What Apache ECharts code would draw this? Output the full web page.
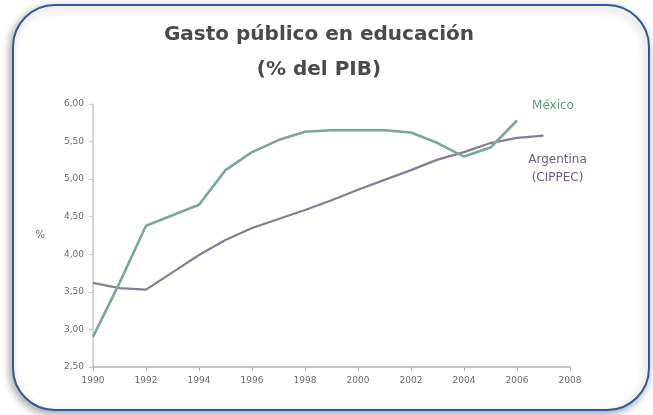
<!DOCTYPE html>
<html>
<head>
<meta charset="utf-8">
<script src="https://cdn.jsdelivr.net/npm/echarts@6/dist/echarts.min.js"></script>
<style>
html,body{margin:0;padding:0;background:#ffffff;}
#c{width:653px;height:415px;}
</style>
</head>
<body>
<div id="c"></div>
<script>
const years = ['1990','1991','1992','1993','1994','1995','1996','1997','1998','1999','2000','2001','2002','2003','2004','2005','2006','2007','2008'];
const mexico = [2.90, 3.62, 4.38, 4.52, 4.66, 5.12, 5.36, 5.52, 5.63, 5.65, 5.65, 5.65, 5.62, 5.48, 5.30, 5.42, 5.78, null, null];
const argentina = [3.62, 3.55, 3.53, 3.76, 3.99, 4.19, 4.35, 4.47, 4.59, 4.72, 4.86, 4.99, 5.12, 5.26, 5.36, 5.48, 5.55, 5.58, null];
const yTicks = {min: 2.5, max: 6.0, step: 0.5};
const titleLines = ['Gasto público en educación', '(% del PIB)'];
const mexicoName = 'México';
const argentinaName = 'Argentina\n(CIPPEC)';

function withEndLabel(arr, text, pos, offset, color) {
  let last = -1;
  arr.forEach((v, i) => { if (v !== null) last = i; });
  return arr.map((v, i) => {
    if (i !== last) return v;
    return {value: v, label: {show: true, formatter: text, position: pos, offset: offset,
      color: color, fontSize: 12, lineHeight: 18, fontFamily: 'DejaVu Sans', align: 'center'}};
  });
}

const chart = echarts.init(document.getElementById('c'), null, {renderer: 'canvas'});
chart.setOption({
  backgroundColor: '#ffffff',
  animation: false,
  graphic: [
    {type: 'rect', z: -10, silent: true,
      shape: {x: 13, y: 5, width: 636, height: 405, r: 42},
      style: {fill: '#ffffff', stroke: '#2f5a9c', lineWidth: 2,
        shadowBlur: 8, shadowColor: 'rgba(0,0,0,0.35)', shadowOffsetX: -2, shadowOffsetY: 3}}
  ],
  title: {
    text: titleLines.join('\n'),
    left: 314, textAlign: 'center', top: 12,
    textStyle: {fontFamily: 'DejaVu Sans', fontSize: 20, fontWeight: 'bold', color: '#4a4a4a', lineHeight: 35}
  },
  grid: {left: 93, right: 83, top: 104, bottom: 48, containLabel: false},
  xAxis: {
    type: 'category', data: years, boundaryGap: false,
    axisLine: {lineStyle: {color: '#b0b0b0', width: 1.5}},
    axisTick: {show: true, interval: 1, length: 4, lineStyle: {color: '#b0b0b0'}},
    axisLabel: {interval: 1, fontSize: 9, color: '#6a6a6a', fontFamily: 'DejaVu Sans', margin: 9},
    splitLine: {show: false}
  },
  yAxis: {
    type: 'value', min: yTicks.min, max: yTicks.max, interval: yTicks.step,
    name: '%', nameLocation: 'middle', nameGap: 48, nameRotate: 0,
    nameTextStyle: {fontSize: 10, color: '#6a6a6a', fontFamily: 'DejaVu Sans'},
    axisLine: {show: true, lineStyle: {color: '#c8c8c8', width: 1.5}},
    axisTick: {show: true, length: 4, lineStyle: {color: '#c8c8c8'}},
    axisLabel: {fontSize: 9, color: '#6a6a6a', fontFamily: 'DejaVu Sans', margin: 9,
      formatter: v => v.toFixed(2).replace('.', ',')},
    splitLine: {show: false}
  },
  series: [
    {name: 'Argentina', type: 'line', data: withEndLabel(argentina, argentinaName, 'bottom', [14, 10], '#6e5a7e'),
      symbol: 'circle', symbolSize: 0.01, showSymbol: true,
      lineStyle: {color: '#877c95', width: 2.2}, itemStyle: {color: '#877c95'}, z: 2},
    {name: 'México', type: 'line', data: withEndLabel(mexico, mexicoName, 'top', [36, -1], '#5f9a7c'),
      symbol: 'circle', symbolSize: 0.01, showSymbol: true,
      lineStyle: {color: '#79a996', width: 2.6}, itemStyle: {color: '#79a996'}, z: 3}
  ]
});
</script>
</body>
</html>
